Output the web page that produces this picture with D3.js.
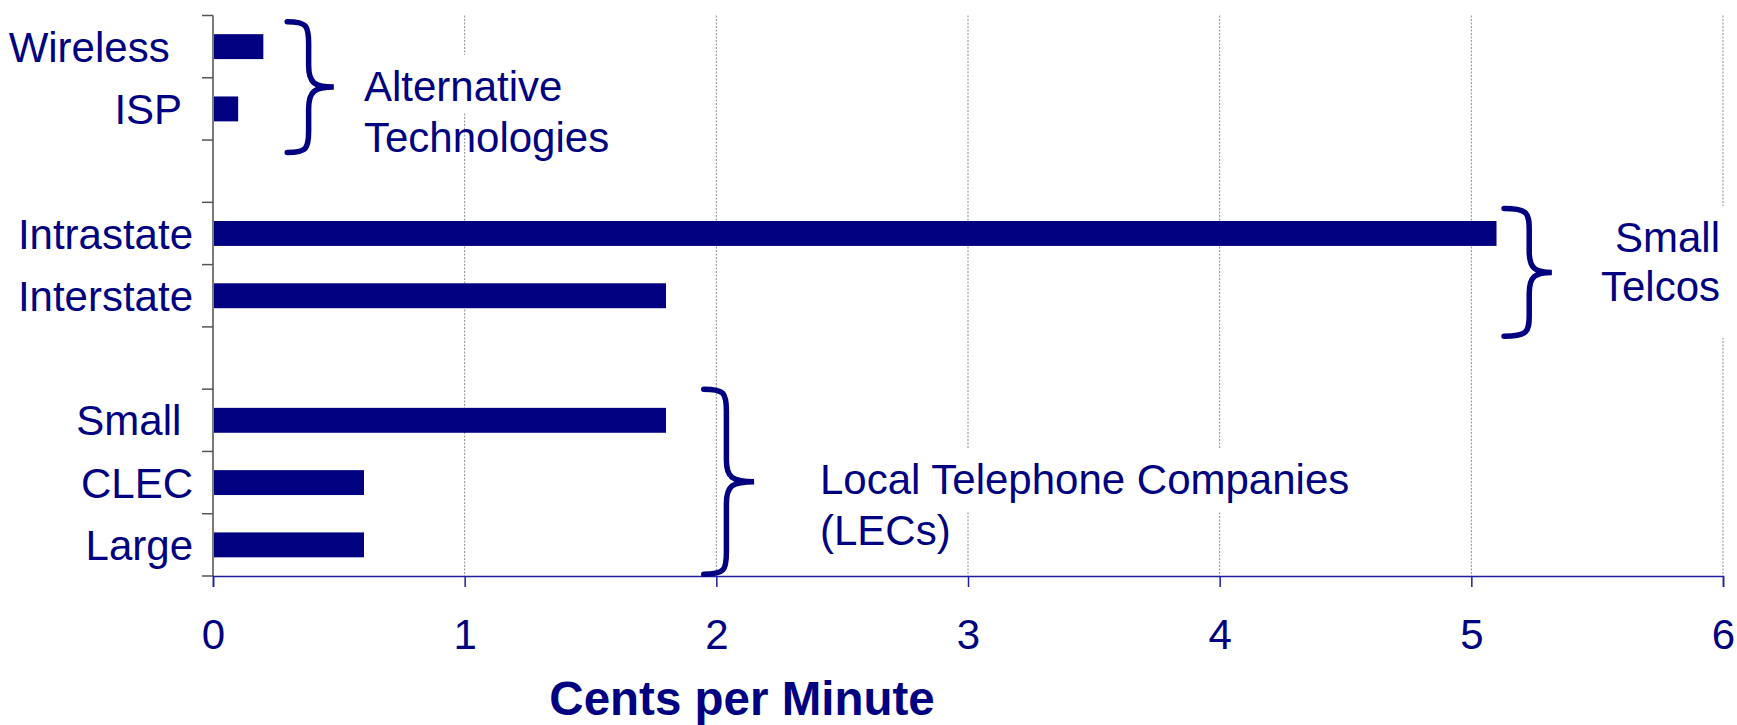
<!DOCTYPE html>
<html>
<head>
<meta charset="utf-8">
<script src="https://cdn.jsdelivr.net/npm/d3@7"></script>
<style>
  html, body { margin: 0; padding: 0; background: #fff; }
  svg { display: block; }
  text { font-family: "Liberation Sans", Arial, sans-serif; fill: #000080; }
</style>
</head>
<body>
<svg id="chart" width="1737" height="725"></svg>
<script>
// Interconnection cost by carrier type (cents per minute)
const categories = ["Wireless  ", "ISP ", "Intrastate", "Interstate", "Small ", "CLEC", "Large"];
const centsPerMinute = [0.2, 0.1, 5.1, 1.8, 1.8, 0.6, 0.6];
// row slot for each category; slots 2 and 5 are spacer rows between groups
const rowSlot = [0, 1, 3, 4, 6, 7, 8];
const slotCount = 9;
const xTickValues = [0, 1, 2, 3, 4, 5, 6];
const axisTitle = "Cents per Minute";

// group annotations: brace spans in row units, brace x in cents
const groupLabels = [
  ["Alternative", "Technologies"],
  ["Small", "Telcos"],
  ["Local Telephone Companies", "(LECs)"]
];
const groupRowSpan = [[0.1, 2.2], [3.1, 5.15], [6.0, 8.97]];
const groupBraceX = [[0.295, 0.38, 0.48], [5.13, 5.23, 5.32], [1.95, 2.04, 2.15]];

const NAVY = "#000080";
const svg = d3.select("#chart");

const margin = { left: 213, right: 14, top: 15.5, bottom: 150 };
const plotBottom = 576;

const x = d3.scaleLinear().domain([0, 6]).range([margin.left, 1723]);
const rows = d3.scaleLinear().domain([0, slotCount]).range([margin.top, plotBottom]);
const band = d3.scaleBand().domain(d3.range(slotCount)).range([margin.top, plotBottom]).paddingInner(0.6).paddingOuter(0.3);

// vertical dotted gridlines
svg.append("g").selectAll("line")
  .data(xTickValues.filter(v => v > 0))
  .join("line")
  .attr("x1", d => x(d)).attr("x2", d => x(d))
  .attr("y1", margin.top).attr("y2", plotBottom)
  .attr("stroke", "#8c8c8c").attr("stroke-width", 1)
  .attr("stroke-dasharray", "2,1.5");

// bars
svg.append("g").selectAll("rect")
  .data(categories.map((c, i) => ({ c, v: centsPerMinute[i], s: rowSlot[i] })))
  .join("rect")
  .attr("x", x(0))
  .attr("y", d => band(d.s))
  .attr("width", d => x(d.v) - x(0))
  .attr("height", band.bandwidth())
  .attr("fill", NAVY);

// y axis line and row ticks
svg.append("line")
  .attr("x1", x(0)).attr("x2", x(0))
  .attr("y1", margin.top).attr("y2", plotBottom)
  .attr("stroke", "#7a7a7a").attr("stroke-width", 2);
svg.append("g").selectAll("line")
  .data(d3.range(slotCount + 1))
  .join("line")
  .attr("x1", x(0) - 11).attr("x2", x(0))
  .attr("y1", d => rows(d)).attr("y2", d => rows(d))
  .attr("stroke", "#555").attr("stroke-width", 1.5);

// category labels
svg.append("g").selectAll("text")
  .data(categories.map((c, i) => ({ c, s: rowSlot[i] })))
  .join("text")
  .attr("x", 193)
  .attr("y", d => band(d.s) + band.bandwidth() / 2)
  .attr("dy", "0.36em")
  .attr("text-anchor", "end")
  .style("white-space", "pre")
  .attr("font-size", 42)
  .text(d => d.c);

// x axis
const xAxis = d3.axisBottom(x).tickValues(xTickValues).tickSize(11).tickPadding(32).tickFormat(d3.format("d"));
const gx = svg.append("g").attr("transform", `translate(0,${plotBottom})`).call(xAxis);
gx.select(".domain").attr("stroke", "#1f1f9e").attr("stroke-width", 1.5);
gx.selectAll(".tick line").attr("stroke", "#1f1f9e").attr("stroke-width", 1.5);
gx.selectAll(".tick text")
  .attr("fill", NAVY)
  .attr("font-size", 42)
  .attr("font-family", "Liberation Sans, Arial, sans-serif");

// axis title
svg.append("text")
  .attr("x", 742).attr("y", 715)
  .attr("text-anchor", "middle")
  .attr("font-size", 47.5)
  .attr("font-weight", "bold")
  .text(axisTitle);

// curly braces
function bracePath(x0, xs, xt, y0, y1) {
  const ym = (y0 + y1) / 2;
  const r = Math.min(22, (y1 - y0) / 6);
  return [
    `M${x0},${y0}`,
    `C${xs - 2},${y0} ${xs},${y0 + 4} ${xs},${y0 + r}`,
    `L${xs},${ym - r}`,
    `C${xs},${ym - 4} ${xs + 6},${ym} ${xt},${ym}`,
    `C${xs + 6},${ym} ${xs},${ym + 4} ${xs},${ym + r}`,
    `L${xs},${y1 - r}`,
    `C${xs},${y1 - 4} ${xs - 2},${y1} ${x0},${y1}`
  ].join(" ");
}
svg.append("g").selectAll("path")
  .data(groupRowSpan.map((s, i) => ({ s, bx: groupBraceX[i] })))
  .join("path")
  .attr("d", d => bracePath(x(d.bx[0]), x(d.bx[1]), x(d.bx[2]), rows(d.s[0]), rows(d.s[1])))
  .attr("fill", "none")
  .attr("stroke", NAVY)
  .attr("stroke-width", 5.5)
  .attr("stroke-linecap", "round");

// group annotation text, with white boxes that clip the gridlines beneath
const annoPlacement = [
  { x: 364, y: 101, anchor: "start", lead: 51, boxLines: 1, boxPad: [46, 12] },
  { x: 1720, y: 252, anchor: "end", lead: 49, boxLines: 2, boxPad: [46, 37] },
  { x: 820, y: 494, anchor: "start", lead: 51, boxLines: 1, boxPad: [46, 18] }
];
groupLabels.forEach((lines, i) => {
  const p = annoPlacement[i];
  const g = svg.append("g");
  const box = g.append("rect").attr("fill", "#fff");
  const t = g.append("text")
    .attr("font-size", 42)
    .attr("text-anchor", p.anchor);
  lines.forEach((ln, j) => {
    t.append("tspan").attr("x", p.x).attr("y", p.y + j * p.lead).text(ln);
  });
  const nodes = t.selectAll("tspan").nodes().slice(0, p.boxLines);
  let minX = Infinity, maxX = -Infinity;
  nodes.forEach(n => {
    const len = n.getComputedTextLength();
    const sx = p.anchor === "end" ? p.x - len : p.x;
    minX = Math.min(minX, sx); maxX = Math.max(maxX, sx + len);
  });
  const yTop = p.y - p.boxPad[0];
  const yBot = p.y + (p.boxLines - 1) * p.lead + p.boxPad[1];
  box.attr("x", minX - 4).attr("y", yTop)
    .attr("width", maxX - minX + 8).attr("height", yBot - yTop);
});
</script>
</body>
</html>
